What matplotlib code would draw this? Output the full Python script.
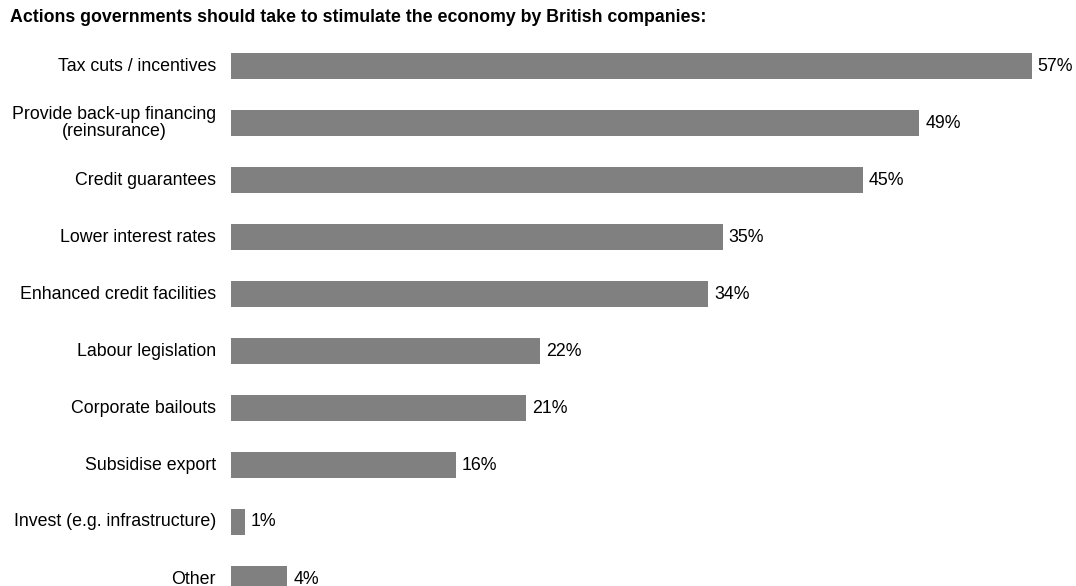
import matplotlib.pyplot as plt

plt.rcParams['font.family'] = ['Liberation Sans', 'DejaVu Sans']

# --- data ---
labels = [
    "Tax cuts / incentives",
    "Provide back-up financing\n(reinsurance)",
    "Credit guarantees",
    "Lower interest rates",
    "Enhanced credit facilities",
    "Labour legislation",
    "Corporate bailouts",
    "Subsidise export",
    "Invest (e.g. infrastructure)",
    "Other",
]
values = [57, 49, 45, 35, 34, 22, 21, 16, 1, 4]
title = "Actions governments should take to stimulate the economy by British companies:"

W, H = 1076, 586
FS = 12.8
fig = plt.figure(figsize=(W / 100, H / 100), dpi=100)

# axes: left edge at bar start, spans full height
ax = fig.add_axes([231 / W, 0, 1 - 231 / W, 1])
px_per_unit = (1031.5 - 231) / 57
ax.set_xlim(0, (W - 231) / px_per_unit)
row = 57.0
ax.set_ylim((H - 66) / row, -66 / row)

pos = list(range(len(labels)))
ax.barh(pos, values, height=26 / row, color='#808080', edgecolor='none')

for y, v, lab in zip(pos, values, labels):
    ax.text(v + 6 / px_per_unit, y, f"{v}%", va='center', ha='left', fontsize=FS)
    ax.text(-15 / px_per_unit, y, lab, va='center', ha='right', fontsize=FS,
            multialignment='center', linespacing=1.0, clip_on=False)

ax.axis('off')

fig.text(10 / W, 1 - 17 / H, title, fontsize=FS, fontweight='bold', va='center', ha='left')

fig.savefig('out.png', dpi=100)
